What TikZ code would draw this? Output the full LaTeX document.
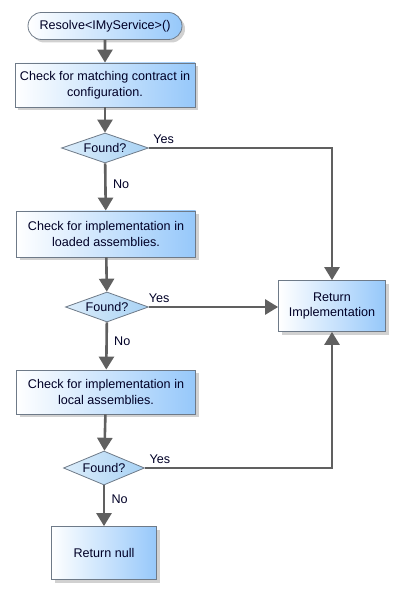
\documentclass[tikz,border=0pt]{standalone}
\usepackage{fontspec}
\setmainfont{Liberation Sans}
\usetikzlibrary{arrows.meta,shapes.geometric,shapes.misc,shadows}
\definecolor{lineg}{HTML}{606060}
\definecolor{bord}{HTML}{6E7A88}
\definecolor{blueR}{HTML}{96C8FA}
\definecolor{blueD}{HTML}{A8D2F4}
\tikzset{
  x={(1pt,0)}, y={(0,-1pt)},
  every node/.style={font=\fontsize{12.6}{15.5}\selectfont, text=black!85!blue},
  procbox/.style={draw=bord, line width=0.8pt, left color=white, right color=blueR,
    align=center, drop shadow={shadow xshift=3pt, shadow yshift=-3pt, fill=black!30, opacity=0.6}},
  decide/.style={diamond, draw=bord, line width=0.8pt, left color=white!60!blueD, right color=blueD,
    aspect=2.9, inner sep=0pt},
  startnode/.style={rounded rectangle, draw=bord, line width=0.8pt, left color=white, right color=blueR,
    inner sep=1pt, drop shadow={shadow xshift=3pt, shadow yshift=-3pt, fill=black!30, opacity=0.6}},
  conn/.style={draw=lineg, line width=2.6pt},
  arr/.style={conn, -{Triangle[length=13pt,width=15pt]}},
  lbl/.style={font=\fontsize{12.6}{15}\selectfont},
}
\begin{document}
\begin{tikzpicture}
\useasboundingbox (0,0) rectangle (400,593);
\node[startnode, minimum width=156pt, minimum height=27pt] (start) at (105,26) {Resolve<IMyService>()};
\node[procbox, minimum width=180pt, minimum height=44pt] (b1) at (105,85) {Check for matching contract in\\configuration.};
\node[decide, minimum width=87pt, minimum height=30pt] (d1) at (105,148) {Found?};
\node[procbox, minimum width=179pt, minimum height=46pt] (b2) at (106,234) {Check for implementation in\\loaded assemblies.};
\node[decide, minimum width=83pt, minimum height=30pt] (d2) at (107,307) {Found?};
\node[procbox, minimum width=179pt, minimum height=44pt] (b3) at (106,392) {Check for implementation in\\local assemblies.};
\node[decide, minimum width=81pt, minimum height=34pt] (d3) at (104,468) {Found?};
\node[procbox, minimum width=105pt, minimum height=53pt] (b4) at (104,553) {Return null};
\node[procbox, minimum width=107pt, minimum height=51pt] (ri) at (332,306) {Return\\Implementation};

\draw[arr] (start) -- (b1);
\draw[arr] (b1) -- (d1);
\draw[arr] (d1) -- node[lbl, right, pos=0.45, xshift=3pt] {No} (b2);
\draw[arr] (b2) -- (d2);
\draw[arr] (d2) -- node[lbl, right, pos=0.4, xshift=3pt] {No} (b3);
\draw[arr] (b3) -- (d3);
\draw[arr] (d3) -- node[lbl, right, pos=0.35, xshift=3pt] {No} (b4);
\draw[arr] (d1.east) -- (ri.north |- d1.east) node[lbl, pos=0.08, above] {Yes} -- (ri.north);
\draw[arr] (d2.east) -- node[lbl, pos=0.08, above] {Yes} (ri.west |- d2.east);
\draw[arr] (d3.east) -- (ri.south |- d3.east) node[lbl, pos=0.08, above] {Yes} -- (ri.south);
\end{tikzpicture}
\end{document}
